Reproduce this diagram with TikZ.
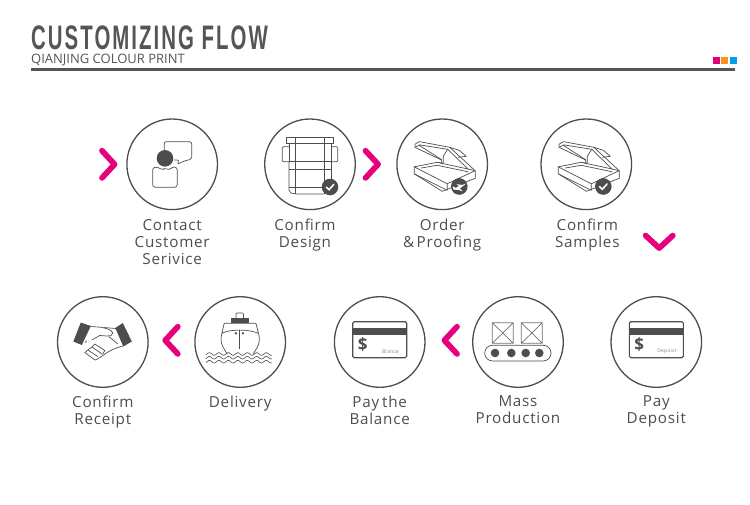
\documentclass[tikz,border=0pt]{standalone}
\usepackage{fontspec}
\setmainfont[LetterSpace=5]{Open Sans}
\newfontfamily\titlefont[FakeStretch=0.6,LetterSpace=6]{Liberation Sans}
\newfontfamily\subtitlefont{Open Sans}
\usetikzlibrary{positioning}
\definecolor{inkgray}{HTML}{4D4D4D}
\definecolor{rulegray}{HTML}{555555}
\definecolor{chevronpink}{HTML}{E6007E}
\definecolor{squareorange}{HTML}{F7931E}
\definecolor{squareblue}{HTML}{00A0E9}

\begin{document}
\begin{tikzpicture}[
        x=1pt,
        y=-1pt,
        stepcircle/.style={
            circle,
            draw=inkgray,
            line width=1.3pt,
            minimum size=90.6pt,
            inner sep=0pt
        },
        steplabel/.style={
            align=center,
            text=inkgray,
            font=\fontsize{15.2}{17.2}\selectfont,
            inner sep=0pt
        },
        icon/.style={draw=inkgray, line width=0.7pt, line join=round},
        solid ink/.style={fill=inkgray, draw=none},
        square/.style={minimum size=7pt, inner sep=0pt},
        pics/chevron/.style={code={
            \draw[chevronpink, line width=5.7pt, line cap=round, line join=round]
                (-6.3,-13.6) -- (6.3,0) -- (-6.3,13.6);
        }},
        pics/badge/.style={code={
            \fill[inkgray] (0,0) circle (8.3);
            \draw[white, line width=1.6pt, line cap=round, line join=round]
                (-3.6,0.2) -- (-1,2.8) -- (3.8,-2.6);
        }},
        pics/person/.style={code={
            \draw[icon, rounded corners=2pt] (-8,-13) -- (-8,-22.6) -- (19.5,-22.6) -- (19.5,-5)
                -- (14,-4) -- (5,0) -- (7,-4.3) -- (2,-4.3);
            \draw[icon, rounded corners=2.5pt] (-19.5,3) -- (-19.5,23) -- (5,23) -- (5,3)
                -- (0,2.5) -- (-3,6) -- (-7,3.5) -- (-10,6) -- (-13.5,3) -- cycle;
            \path[solid ink] (-7.2,-6) circle (8.3);
        }},
        pics/design/.style={code={
            \draw[icon] (-23.5,-26.6) rectangle (23.5,-21);
            \draw[icon] (-21,-21) rectangle (21,-2.6);
            \draw[icon, rounded corners=1pt] (-21,-17.6) -- (-27.7,-17.6) -- (-27.7,-2.6) -- (-21,-2.6);
            \draw[icon, rounded corners=1pt] (21,-17.6) -- (27.7,-17.6) -- (27.7,-2.6) -- (21,-2.6);
            \draw[icon] (-21,-2.6) -- (-21,25.7) .. controls (-20,29) and (-17,29.7) .. (-14,29.7) -- (14,29.7);
            \draw[icon] (21,-2.6) -- (21,23);
            \draw[icon] (-14.5,-26.6) -- (-14.5,29.7);
            \draw[icon] (14.5,-26.6) -- (14.5,29.7);
            \draw[icon] (-21,5) -- (21,5);
            \draw[icon] (-21,23) -- (14.5,23);
        }},
        pics/openbox/.style={code={
            \draw[icon] (-28,2.5) -- (-5,-2) -- (33,6.3) -- (5,19.5) -- cycle;
            \draw[icon] (-28,2.5) -- (-28,9.5) -- (0,27) -- (33,14) -- (33,6.3);
            \draw[icon] (-28,9.5) -- (5,26) -- (5,19.5);
            \draw[icon] (-21,3.7) -- (-5,1) -- (26,7.5);
            \draw[icon] (-27.3,-20) -- (-23,-22.7) -- (7.5,-17) -- (32,5.5);
            \draw[icon] (-27.3,-20) -- (-27.3,-17) -- (-1,-4.5) -- (0,-0.5) -- (-3,-2);
            \draw[icon] (-27.3,-17) -- (-23,-19) -- (-0.5,-4.5);
            \draw[icon] (-23,-19.5) -- (5.5,-15) -- (26,5);
            \draw[icon] (5.5,-15) -- (1,-8) -- (1,-1);
            \draw[icon] (7.5,-17) -- (17,-14) -- (24,-8) -- (16,-7);
        }},
        pics/ship/.style={code={
            \draw[icon, rounded corners=1pt] (-4.3,-23.7) -- (-4.3,-29) -- (3.3,-29) -- (3.3,-23.7);
            \path[solid ink] (-9,-23.7) rectangle (8.3,-18.7);
            \draw[icon] (-16,-18.7) -- (15.7,-18.7) -- (18.3,-8.7) .. controls (8,-13) and (-10,-13) .. (-18.3,-8.7) -- cycle;
            \draw[icon] (-18.3,-8.7) .. controls (-20,-1) and (-20,1) .. (-13,12);
            \draw[icon] (18.3,-8.7) .. controls (20,-1) and (20,1) .. (13,12);
            \draw[icon] (-0.7,-12) -- (-0.7,6.5);
            \path[solid ink] (-4.3,-8.7) circle (1.3) (2.7,-8.7) circle (1.3);
            \foreach \waveY in {12,15.7,19.7} {
                \draw[icon, line width=0.6pt] plot[domain=-34.3:31.7, samples=90, smooth]
                    (\x, {\waveY+1.3*sin(\x*38)});
            }
        }},
        pics/handshake/.style={code={
            \path[solid ink] (-22,-19.5) -- (-12,-16) -- (-21,3) -- (-29.5,-0.5) -- cycle;
            \path[solid ink] (20,-19) -- (29,-0.5) -- (20.5,4.5) -- (12.5,-14) -- cycle;
            \draw[icon] (-13,-15.5) -- (-4,-15) .. controls (4,-14) and (9,-12) .. (10,-9)
                .. controls (10,-6) and (7,-6) .. (4,-6) -- (-3,-6.5) -- (-11,-2);
            \draw[icon] (13,-13.5) -- (1,-14.5);
            \draw[icon] (20,4) .. controls (12,6) and (6,9) .. (0,13.5)
                .. controls (-3,15.5) and (-5,17) .. (-7,18);
            \draw[icon] (6,-5.5) -- (15,2) (-16,-1) -- (-18,0.5);
            \draw[icon, line cap=round] (-11,5) -- (-8,2) (-8,2) -- (2,8.5)
                (-11,5) -- (-2,11) (-15,8) -- (-11,5) (-15,8) -- (-5,14.5)
                (-15,8) -- (-18,10.5) -- (-8.5,17.5) -- (-7,18) (-3,10.5) -- (-1,12) (2,8.5) -- (0,12);
        }},
        pics/card/.style={code={
            \draw[inkgray, line width=1.1pt, rounded corners=1.5pt] (-27,-20.3) rectangle (27,15.7);
            \path[solid ink] (-27,-13.7) rectangle (27,-7);
            \node[text=inkgray, inner sep=0pt, font=\fontsize{17}{17}\bfseries\selectfont] (dollar) at (-17,2.3) {\$};
            \node[text=inkgray!70, inner sep=0pt, font=\fontsize{5}{5}\selectfont] (cardtext) at (10.7,9.7) {#1};
        }},
        pics/conveyor/.style={code={
            \draw[icon, draw=inkgray!80] (-25.7,-19.3) rectangle (-4.7,1.3)
                (-25.7,-19.3) -- (-4.7,1.3) (-25.7,1.3) -- (-4.7,-19.3);
            \draw[icon, draw=inkgray!80] (3.3,-19.3) rectangle (24.3,1.3)
                (3.3,-19.3) -- (24.3,1.3) (3.3,1.3) -- (24.3,-19.3);
            \draw[icon, rounded corners=7.7pt] (-33.3,3.3) rectangle (33,18.9);
            \path[solid ink] (-23,11) circle (4.3) (-6.7,11) circle (4.3) (7.7,11) circle (4.3) (21.3,11) circle (4.3);
        }}
    ]

    \useasboundingbox (0,0) rectangle (750,504);

    \node[anchor=base west, inner sep=0pt, text depth=0pt, text=rulegray, font=\titlefont\bfseries\fontsize{34}{34}\selectfont] (title) at (31,49) {CUSTOMIZING FLOW};
    \node[anchor=base west, inner sep=0pt, text height=9pt, text=rulegray, font=\subtitlefont\fontsize{13}{13}\selectfont] (subtitle) at (31,63.5) {QIANJING COLOUR PRINT};
    \draw[rulegray, line width=3pt] (31,69.5) coordinate (ruleleft) -- (734.5,69.5) coordinate (ruleright);

    \node[square, fill=chevronpink] (sqpink) at (716.2,60.7) {};
    \node[square, fill=squareorange, right=1pt of sqpink] (sqorange) {};
    \node[square, fill=squareblue, right=1pt of sqorange] (sqblue) {};

    \node[stepcircle] (contact) at (172.2,164.3) {};
    \node[stepcircle] (design) at (310,164.3) {};
    \node[stepcircle] (order) at (442.2,164.3) {};
    \node[stepcircle] (samples) at (586.3,164.3) {};
    \node[stepcircle] (deposit) at (656.3,342) {};
    \node[stepcircle] (mass) at (518,342) {};
    \node[stepcircle] (balance) at (379.7,342) {};
    \node[stepcircle] (delivery) at (240.2,342) {};
    \node[stepcircle] (receipt) at (102.8,342) {};

    \node[steplabel, below=9pt of contact] (contactlabel) {Contact\\Customer\\Serivice};
    \node[steplabel, below=8pt of design, xshift=-5pt] (designlabel) {Confirm\\Design};
    \node[steplabel, below=8pt of order] (orderlabel) {Order\\\&\,Proofing};
    \node[steplabel, below=8pt of samples, xshift=1pt] (sampleslabel) {Confirm\\Samples};
    \node[steplabel, below=7.5pt of deposit] (depositlabel) {Pay\\Deposit};
    \node[steplabel, below=7.5pt of mass] (masslabel) {Mass\\Production};
    \node[steplabel, below=8pt of balance] (balancelabel) {Pay\hspace{3pt}the\\Balance};
    \node[steplabel, below=8pt of delivery] (deliverylabel) {Delivery};
    \node[steplabel, below=7.5pt of receipt] (receiptlabel) {Confirm\\Receipt};

    \pic (iconcontact) at (contact) {person};
    \pic (icondesign) at (design) {design};
    \pic (badgedesign) at (330,187) {badge};
    \pic (iconorder) at (order) {openbox};
    \path[fill=inkgray] (459.3,186.5) circle (8.3);
    \fill[white] (466,183.6) coordinate (planehead) -- (458,190) -- (453.5,189.5) -- (452.5,186.5) -- (454,186.5) -- (455.5,188) -- (459,186) -- (456.5,184.5) -- (458,184.3) -- (462,185) -- cycle;
    \fill[white] (459,187.5) coordinate (wingroot) -- (462.5,191) -- (461,191) -- (457,188.5) -- cycle;
    \pic (iconsamples) at (samples) {openbox};
    \pic (badgesamples) at (603.3,186.5) {badge};
    \pic (icondeposit) at (deposit) {card={Deposit}};
    \pic (iconmass) at (mass) {conveyor};
    \pic (iconbalance) at (balance) {card={Blance}};
    \pic (icondelivery) at (delivery) {ship};
    \pic (iconreceipt) at (receipt) {handshake};

    \pic (chevrona) at (108.3,164.3) {chevron};
    \pic (chevronb) at (371.8,164.3) {chevron};
    \pic[rotate=-90] (chevronc) at (659.2,241.8) {chevron};
    \pic[rotate=180] (chevrond) at (450.7,340.3) {chevron};
    \pic[rotate=180] (chevrone) at (171.5,340.3) {chevron};

\end{tikzpicture}
\end{document}
